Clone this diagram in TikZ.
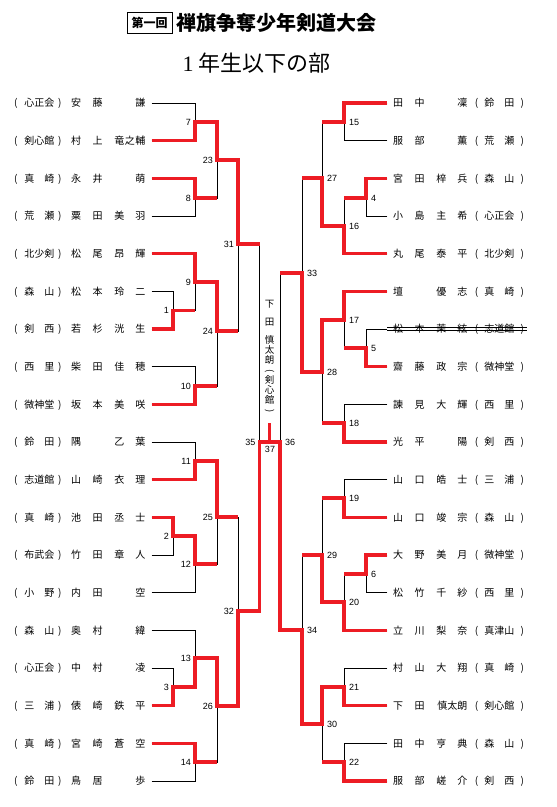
\documentclass[tikz,border=0pt]{standalone}
\usepackage{fontspec}
\setmainfont{Noto Sans CJK JP}
\newfontfamily\numf{Liberation Sans}
\newfontfamily\serf{Liberation Serif}
\usepackage{graphicx}
\usepackage{tikz}
\usetikzlibrary{positioning}
\definecolor{kred}{RGB}{237,28,36}
% club + name on the left, name + club on the right
\newcommand\lrow[4]{\makebox[10pt]{(}\hspace{3.5pt}\makebox[30pt][s]{#1}\hspace{0.5pt}\makebox[10pt]{)}\hspace{0.5pt}\makebox[21.5pt]{#2}\makebox[21.5pt]{#3}\makebox[43pt][s]{\hspace{6pt}#4\hspace{6pt}}}
\newcommand\rrow[4]{\makebox[21.5pt]{#1}\makebox[21.5pt]{#2}\makebox[43pt][s]{\hspace{6pt}#3\hspace{6pt}}\makebox[6pt]{(}\hspace{5pt}\makebox[30pt][s]{#4}\hspace{2.75pt}\makebox[10pt]{)}}
\newcommand\vparen[1]{\rotatebox[origin=c]{-90}{#1}}

\begin{document}
\begin{tikzpicture}[x=1pt, y=-1pt,
  bline/.style={line width=0.8pt},
  rline/.style={line width=3.4pt, draw=kred, line join=miter},
  lplayer/.style={anchor=east, inner sep=0pt, text height=8.2pt, text depth=0.7pt,
                  font=\fontsize{10}{11}\selectfont},
  rplayer/.style={lplayer, anchor=west},
  lno/.style={anchor=east, xshift=-4pt, inner sep=0pt, font=\numf\fontsize{9}{10}\selectfont},
  rno/.style={anchor=west, xshift=5pt, inner sep=0pt, font=\numf\fontsize{9}{10}\selectfont},
]
\useasboundingbox (0,0) rectangle (557,807);

% title
\node[draw, line width=0.8pt, minimum width=45pt, minimum height=21pt, inner sep=0pt,
      font=\bfseries\fontsize{12}{12}\selectfont] (kai) at (149.5,22.5) {第一回};
\node[right=4pt of kai, inner sep=0pt, font=\bfseries\fontsize{20}{20}\selectfont] (taikai) {禅旗争奪少年剣道大会};
\node[inner sep=0pt, font=\fontsize{22}{22}\selectfont] (bu) at (256.5,63) {{\serf 1}\hspace{5pt}年生以下の部};

% left players
\node[lplayer] (L1)  at (151.5,103)   {\lrow{心\hfill 正\hfill 会}{安}{藤}{\hfill 謙}};
\node[lplayer] (L2)  at (151.5,140.7) {\lrow{剣\hfill 心\hfill 館}{村}{上}{竜\hfill 之\hfill 輔}};
\node[lplayer] (L3)  at (151.5,178.3) {\lrow{真\hfill 崎}{永}{井}{\hfill 萌}};
\node[lplayer] (L4)  at (151.5,216)   {\lrow{荒\hfill 瀬}{粟}{田}{美\hfill 羽}};
\node[lplayer] (L5)  at (151.5,253.7) {\lrow{北\hfill 少\hfill 剣}{松}{尾}{昂\hfill 輝}};
\node[lplayer] (L6)  at (151.5,291.3) {\lrow{森\hfill 山}{松}{本}{玲\hfill 二}};
\node[lplayer] (L7)  at (151.5,329)   {\lrow{剣\hfill 西}{若}{杉}{洸\hfill 生}};
\node[lplayer] (L8)  at (151.5,366.7) {\lrow{西\hfill 里}{柴}{田}{佳\hfill 穂}};
\node[lplayer] (L9)  at (151.5,404.3) {\lrow{微\hfill 神\hfill 堂}{坂}{本}{美\hfill 咲}};
\node[lplayer] (L10) at (151.5,442)   {\lrow{鈴\hfill 田}{隅}{}{乙\hfill 葉}};
\node[lplayer] (L11) at (151.5,479.7) {\lrow{志\hfill 道\hfill 館}{山}{崎}{衣\hfill 理}};
\node[lplayer] (L12) at (151.5,517.3) {\lrow{真\hfill 崎}{池}{田}{丞\hfill 士}};
\node[lplayer] (L13) at (151.5,555)   {\lrow{布\hfill 武\hfill 会}{竹}{田}{章\hfill 人}};
\node[lplayer] (L14) at (151.5,592.7) {\lrow{小\hfill 野}{内}{田}{\hfill 空}};
\node[lplayer] (L15) at (151.5,630.3) {\lrow{森\hfill 山}{奥}{村}{\hfill 緯}};
\node[lplayer] (L16) at (151.5,668)   {\lrow{心\hfill 正\hfill 会}{中}{村}{\hfill 凌}};
\node[lplayer] (L17) at (151.5,705.7) {\lrow{三\hfill 浦}{俵}{崎}{鉄\hfill 平}};
\node[lplayer] (L18) at (151.5,743.3) {\lrow{真\hfill 崎}{宮}{崎}{蒼\hfill 空}};
\node[lplayer] (L19) at (151.5,781)   {\lrow{鈴\hfill 田}{鳥}{居}{\hfill 歩}};

% right players
\node[rplayer] (R1)  at (387.25,103)   {\rrow{田}{中}{\hfill 凜}{鈴\hfill 田}};
\node[rplayer] (R2)  at (387.25,140.7) {\rrow{服}{部}{\hfill 薫}{荒\hfill 瀬}};
\node[rplayer] (R3)  at (387.25,178.3) {\rrow{宮}{田}{梓\hfill 兵}{森\hfill 山}};
\node[rplayer] (R4)  at (387.25,216)   {\rrow{小}{島}{主\hfill 希}{心\hfill 正\hfill 会}};
\node[rplayer] (R5)  at (387.25,253.7) {\rrow{丸}{尾}{泰\hfill 平}{北\hfill 少\hfill 剣}};
\node[rplayer] (R6)  at (387.25,291.3) {\rrow{壇}{}{優\hfill 志}{真\hfill 崎}};
\node[rplayer] (R7)  at (387.25,329)   {\rrow{松}{本}{茉\hfill 絃}{志\hfill 道\hfill 館}};
\node[rplayer] (R8)  at (387.25,366.7) {\rrow{齋}{藤}{政\hfill 宗}{微\hfill 神\hfill 堂}};
\node[rplayer] (R9)  at (387.25,404.3) {\rrow{諫}{見}{大\hfill 輝}{西\hfill 里}};
\node[rplayer] (R10) at (387.25,442)   {\rrow{光}{平}{\hfill 陽}{剣\hfill 西}};
\node[rplayer] (R11) at (387.25,479.7) {\rrow{山}{口}{皓\hfill 士}{三\hfill 浦}};
\node[rplayer] (R12) at (387.25,517.3) {\rrow{山}{口}{竣\hfill 宗}{森\hfill 山}};
\node[rplayer] (R13) at (387.25,555)   {\rrow{大}{野}{美\hfill 月}{微\hfill 神\hfill 堂}};
\node[rplayer] (R14) at (387.25,592.7) {\rrow{松}{竹}{千\hfill 紗}{西\hfill 里}};
\node[rplayer] (R15) at (387.25,630.3) {\rrow{立}{川}{梨\hfill 奈}{真\hfill 津\hfill 山}};
\node[rplayer] (R16) at (387.25,668)   {\rrow{村}{山}{大\hfill 翔}{真\hfill 崎}};
\node[rplayer] (R17) at (387.25,705.7) {\rrow{下}{田}{\hfill 慎太朗}{剣\hfill 心\hfill 館}};
\node[rplayer] (R18) at (387.25,743.3) {\rrow{田}{中}{亨\hfill 典}{森\hfill 山}};
\node[rplayer] (R19) at (387.25,781)   {\rrow{服}{部}{嵯\hfill 介}{剣\hfill 西}};

% withdrawn entry
\draw[line width=0.6pt] ([yshift=1.5pt]R7.west) -- ([yshift=1.5pt]R7.east);
\draw[line width=0.6pt] ([yshift=-1.5pt]R7.west) -- ([yshift=-1.5pt]R7.east);

% match points, left
\coordinate (m1)  at (173,310.5);
\coordinate (m2)  at (173,536);
\coordinate (m3)  at (173,687);
\coordinate (m7)  at (195,122);
\coordinate (m8)  at (195,198);
\coordinate (m9)  at (195,282);
\coordinate (m10) at (195,386);
\coordinate (m11) at (195,461);
\coordinate (m12) at (195,564);
\coordinate (m13) at (195,658);
\coordinate (m14) at (195,762);
\coordinate (m23) at (217,160);
\coordinate (m24) at (217,331);
\coordinate (m25) at (217,517);
\coordinate (m26) at (217,706);
\coordinate (m31) at (238,244);
\coordinate (m32) at (238,611);
\coordinate (m35) at (259.5,442);
% match points, right
\coordinate (m4)  at (366,198);
\coordinate (m5)  at (366,348);
\coordinate (m6)  at (366,574);
\coordinate (m15) at (344,122);
\coordinate (m16) at (344,226);
\coordinate (m17) at (344,320);
\coordinate (m18) at (344,423);
\coordinate (m19) at (344,498);
\coordinate (m20) at (344,602);
\coordinate (m21) at (344,687);
\coordinate (m22) at (344,762);
\coordinate (m27) at (322,178);
\coordinate (m28) at (322,372);
\coordinate (m29) at (322,555);
\coordinate (m30) at (322,724);
\coordinate (m33) at (302,273);
\coordinate (m34) at (302,630);
\coordinate (m36) at (280,442);
% final
\coordinate (m37) at (269.5,442);
\coordinate (w37) at (269.5,423);

% bracket, left
\draw[bline] (L1.east) -| (m7);  \draw[bline] (L2.east) -| (m7);
\draw[bline] (L3.east) -| (m8);  \draw[bline] (L4.east) -| (m8);
\draw[bline] (m7) -| (m23);      \draw[bline] (m8) -| (m23);
\draw[bline] (L6.east) -| (m1);  \draw[bline] (L7.east) -| (m1);
\draw[bline] (L5.east) -| (m9);  \draw[bline] (m1) -| (m9);
\draw[bline] (L8.east) -| (m10); \draw[bline] (L9.east) -| (m10);
\draw[bline] (m9) -| (m24);      \draw[bline] (m10) -| (m24);
\draw[bline] (m23) -| (m31);     \draw[bline] (m24) -| (m31);
\draw[bline] (L10.east) -| (m11); \draw[bline] (L11.east) -| (m11);
\draw[bline] (L12.east) -| (m2);  \draw[bline] (L13.east) -| (m2);
\draw[bline] (m2) -| (m12);       \draw[bline] (L14.east) -| (m12);
\draw[bline] (m11) -| (m25);      \draw[bline] (m12) -| (m25);
\draw[bline] (L16.east) -| (m3);  \draw[bline] (L17.east) -| (m3);
\draw[bline] (L15.east) -| (m13); \draw[bline] (m3) -| (m13);
\draw[bline] (L18.east) -| (m14); \draw[bline] (L19.east) -| (m14);
\draw[bline] (m13) -| (m26);      \draw[bline] (m14) -| (m26);
\draw[bline] (m25) -| (m32);      \draw[bline] (m26) -| (m32);
\draw[bline] (m31) -| (m35);      \draw[bline] (m32) -| (m35);

% bracket, right
\draw[bline] (R1.west) -| (m15);  \draw[bline] (R2.west) -| (m15);
\draw[bline] (R3.west) -| (m4);   \draw[bline] (R4.west) -| (m4);
\draw[bline] (m4) -| (m16);       \draw[bline] (R5.west) -| (m16);
\draw[bline] (m15) -| (m27);      \draw[bline] (m16) -| (m27);
\draw[bline] (R7.west) -| (m5);   \draw[bline] (R8.west) -| (m5);
\draw[bline] (R6.west) -| (m17);  \draw[bline] (m5) -| (m17);
\draw[bline] (R9.west) -| (m18);  \draw[bline] (R10.west) -| (m18);
\draw[bline] (m17) -| (m28);      \draw[bline] (m18) -| (m28);
\draw[bline] (m27) -| (m33);      \draw[bline] (m28) -| (m33);
\draw[bline] (R11.west) -| (m19); \draw[bline] (R12.west) -| (m19);
\draw[bline] (R13.west) -| (m6);  \draw[bline] (R14.west) -| (m6);
\draw[bline] (m6) -| (m20);       \draw[bline] (R15.west) -| (m20);
\draw[bline] (m19) -| (m29);      \draw[bline] (m20) -| (m29);
\draw[bline] (R16.west) -| (m21); \draw[bline] (R17.west) -| (m21);
\draw[bline] (R18.west) -| (m22); \draw[bline] (R19.west) -| (m22);
\draw[bline] (m21) -| (m30);      \draw[bline] (m22) -| (m30);
\draw[bline] (m29) -| (m34);      \draw[bline] (m30) -| (m34);
\draw[bline] (m33) -| (m36);      \draw[bline] (m34) -| (m36);

% winners, left
\draw[rline] (L2.east) -| (m7) -| (m23) -| (m31) -- (m31 -| m35);
\draw[rline] (L3.east) -| (m8) -- (m8 -| m23);
\draw[rline] (L5.east) -| (m9) -| (m24) -- (m24 -| m31);
\draw[rline] (L7.east) -| (m1) -- (m1 -| m9);
\draw[rline] (L9.east) -| (m10) -- (m10 -| m24);
\draw[rline] (L11.east) -| (m11) -| (m25) -- (m25 -| m32);
\draw[rline] (L12.east) -| (m2) -| (m12) -- (m12 -| m25);
\draw[rline] (L17.east) -| (m3) -| (m13) -| (m26) -| (m32) -| (m35) -- (m37);
\draw[rline] (L18.east) -| (m14) -- (m14 -| m26);

% winners, right
\draw[rline] (R1.west) -| (m15) -- (m15 -| m27);
\draw[rline] (R3.west) -| (m4) -- (m4 -| m16);
\draw[rline] (R5.west) -| (m16) -| (m27) -- (m27 -| m33);
\draw[rline] (R6.west) -| (m17) -| (m28) -| (m33) -- (m33 -| m36);
\draw[rline] (R8.west) -| (m5) -- (m5 -| m17);
\draw[rline] (R10.west) -| (m18) -- (m18 -| m28);
\draw[rline] (R12.west) -| (m19) -- (m19 -| m29);
\draw[rline] (R13.west) -| (m6) -- (m6 -| m20);
\draw[rline] (R15.west) -| (m20) -| (m29) -- (m29 -| m34);
\draw[rline] (R19.west) -| (m22) -- (m22 -| m30);
\draw[rline] (R17.west) -| (m21) -| (m30) -| (m34) -| (m36) -- (m37) -- (w37);

% champion
\node[anchor=north, inner sep=0pt, align=center, font=\fontsize{9.5}{10}\selectfont] (champ) at (269.5,300.5)
  {下\\[8pt]田\\[8pt]慎\\太\\朗\\\vparen{(}\\剣\\心\\館\\\vparen{)}};

% match numbers
\node[lno] (t1) at (m1) {1};   \node[lno] (t2) at (m2) {2};   \node[lno] (t3) at (m3) {3};
\node[lno] (t7) at (m7) {7};   \node[lno] (t8) at (m8) {8};   \node[lno] (t9) at (m9) {9};
\node[lno] (t10) at (m10) {10}; \node[lno] (t11) at (m11) {11}; \node[lno] (t12) at (m12) {12};
\node[lno] (t13) at (m13) {13}; \node[lno] (t14) at (m14) {14};
\node[lno] (t23) at (m23) {23}; \node[lno] (t24) at (m24) {24}; \node[lno] (t25) at (m25) {25};
\node[lno] (t26) at (m26) {26}; \node[lno] (t31) at (m31) {31}; \node[lno] (t32) at (m32) {32};
\node[lno] (t35) at (m35) {35};
\node[rno] (t4) at (m4) {4};   \node[rno] (t5) at (m5) {5};   \node[rno] (t6) at (m6) {6};
\node[rno] (t15) at (m15) {15}; \node[rno] (t16) at (m16) {16}; \node[rno] (t17) at (m17) {17};
\node[rno] (t18) at (m18) {18}; \node[rno] (t19) at (m19) {19}; \node[rno] (t20) at (m20) {20};
\node[rno] (t21) at (m21) {21}; \node[rno] (t22) at (m22) {22};
\node[rno] (t27) at (m27) {27}; \node[rno] (t28) at (m28) {28}; \node[rno] (t29) at (m29) {29};
\node[rno] (t30) at (m30) {30}; \node[rno] (t33) at (m33) {33}; \node[rno] (t34) at (m34) {34};
\node[rno] (t36) at (m36) {36};
\node[anchor=north, inner sep=0pt, font=\numf\fontsize{9}{10}\selectfont] (t37) at (270,446.5) {37};

\end{tikzpicture}
\end{document}
